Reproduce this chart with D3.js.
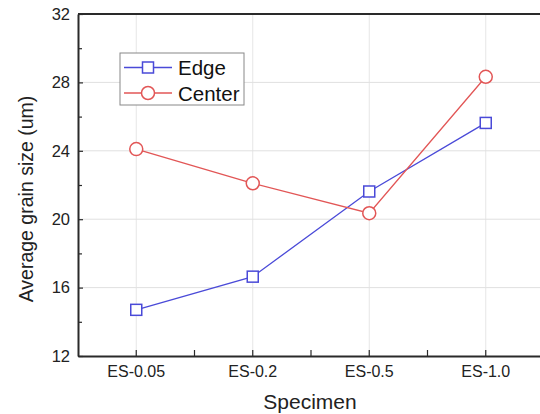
<!DOCTYPE html>
<html><head><meta charset="utf-8">
<script src="https://cdn.jsdelivr.net/npm/d3@7"></script>
<style>body{margin:0;background:#fff}svg{display:block;font-family:"Liberation Sans",Arial,sans-serif}</style>
</head><body><svg id="c" width="540" height="414"></svg>
<script>
const categories = ["ES-0.05","ES-0.2","ES-0.5","ES-1.0"];
const edgeValues = [14.7, 16.64, 21.62, 25.63];
const centerValues = [24.1, 22.1, 20.35, 28.33];
const yTicks = [12,16,20,24,28,32];
const yMinorTicks = [14,18,22,26,30];

const svg = d3.select("#c");
const L=78, T=14, R=544, B=356;
const x = d3.scaleBand().domain(categories).range([L,R]);
const xc = d => x(d)+x.bandwidth()/2;
const y = d3.scaleLinear().domain([12,32]).range([B,T]);

// grid
const g = svg.append("g");
g.selectAll(".gx").data(categories).join("line")
  .attr("x1",xc).attr("x2",xc).attr("y1",T).attr("y2",B)
  .attr("stroke","#e6e6e6").attr("stroke-width",1);
g.selectAll(".gy").data(yTicks.slice(1,-1)).join("line")
  .attr("x1",L).attr("x2",R).attr("y1",d=>y(d)).attr("y2",d=>y(d))
  .attr("stroke","#e0e0e0").attr("stroke-width",1);

// axes
const axCol="#2a2a2a";
const yAxis = d3.axisLeft(y).tickValues(yTicks).tickSizeInner(-5).tickSizeOuter(0).tickPadding(8);
const ya = svg.append("g").attr("transform",`translate(${L},0)`).call(yAxis);
ya.select(".domain").attr("stroke",axCol).attr("stroke-width",2);
ya.selectAll(".tick line").attr("stroke",axCol).attr("stroke-width",1.2);
ya.selectAll("text").attr("font-size",16.5).attr("fill","#222").attr("font-family","Liberation Sans, Arial, sans-serif");
const yMinor = d3.axisLeft(y).tickValues(yMinorTicks).tickSize(-4).tickFormat("");
const ym = svg.append("g").attr("transform",`translate(${L},0)`).call(yMinor);
ym.select(".domain").remove();
ym.selectAll(".tick line").attr("stroke",axCol).attr("stroke-width",1.2);

const xAxis = d3.axisBottom(x).tickSizeInner(-6).tickSizeOuter(0).tickPadding(10);
const xa = svg.append("g").attr("transform",`translate(0,${B})`).call(xAxis);
xa.select(".domain").attr("stroke",axCol).attr("stroke-width",2);
xa.selectAll(".tick line").attr("stroke",axCol).attr("stroke-width",1.2);
xa.selectAll("text").attr("font-size",16).attr("fill","#222").attr("font-family","Liberation Sans, Arial, sans-serif");
// minor x ticks at band boundaries
svg.append("g").selectAll("line").data(categories.slice(1)).join("line")
  .attr("x1",d=>x(d)).attr("x2",d=>x(d)).attr("y1",B).attr("y2",B-6)
  .attr("stroke",axCol).attr("stroke-width",1.2);
// top border
svg.append("line").attr("x1",L).attr("x2",R).attr("y1",T).attr("y2",T).attr("stroke",axCol).attr("stroke-width",2);

// titles
svg.append("text").attr("x",310).attr("y",409).attr("text-anchor","middle")
  .attr("font-size",21).attr("fill","#222").text("Specimen");
svg.append("text").attr("transform","translate(33,199) rotate(-90)").attr("text-anchor","middle")
  .attr("font-size",19.5).attr("fill","#222").text("Average grain size (um)");

// series
const blue="#4a4ad8", red="#e25656";
const line = d3.line().x((d,i)=>xc(categories[i])).y(d=>y(d));
svg.append("path").datum(edgeValues).attr("d",line).attr("fill","none").attr("stroke",blue).attr("stroke-width",1.3);
svg.append("path").datum(centerValues).attr("d",line).attr("fill","none").attr("stroke",red).attr("stroke-width",1.3);
svg.selectAll(".sq").data(edgeValues).join("rect")
  .attr("x",(d,i)=>xc(categories[i])-5.5).attr("y",d=>y(d)-5.5).attr("width",11).attr("height",11)
  .attr("fill","#fff").attr("stroke",blue).attr("stroke-width",1.5);
svg.selectAll(".ci").data(centerValues).join("circle")
  .attr("cx",(d,i)=>xc(categories[i])).attr("cy",d=>y(d)).attr("r",6.5)
  .attr("fill","#fff").attr("stroke",red).attr("stroke-width",1.5);

// legend
const lg = svg.append("g");
lg.append("rect").attr("x",120).attr("y",53).attr("width",124).attr("height",52)
  .attr("fill","#fff").attr("stroke","#888").attr("stroke-width",1);
lg.append("line").attr("x1",124).attr("x2",172).attr("y1",67.5).attr("y2",67.5).attr("stroke",blue).attr("stroke-width",1.3);
lg.append("rect").attr("x",142.5).attr("y",62).attr("width",11).attr("height",11).attr("fill","#fff").attr("stroke",blue).attr("stroke-width",1.5);
lg.append("line").attr("x1",124).attr("x2",172).attr("y1",93).attr("y2",93).attr("stroke",red).attr("stroke-width",1.3);
lg.append("circle").attr("cx",148).attr("cy",93).attr("r",6.5).attr("fill","#fff").attr("stroke",red).attr("stroke-width",1.5);
lg.append("text").attr("x",178).attr("y",75).attr("font-size",20.5).attr("fill","#111").text("Edge");
lg.append("text").attr("x",178).attr("y",100.5).attr("font-size",20.5).attr("fill","#111").text("Center");
</script></body></html>
